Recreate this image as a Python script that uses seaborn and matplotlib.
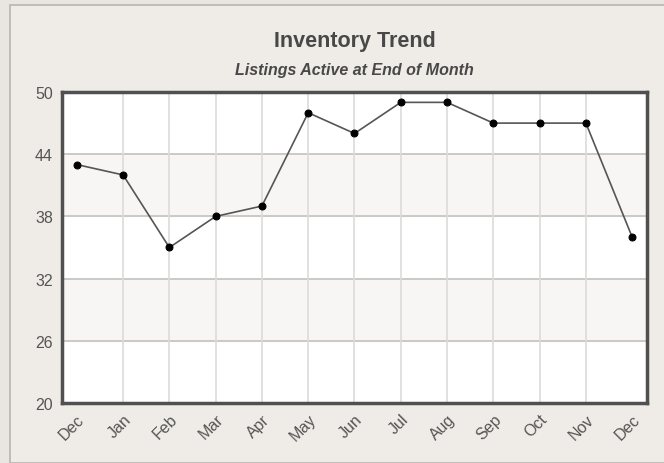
import seaborn as sns
import matplotlib.pyplot as plt
from matplotlib.patches import Rectangle

# data
months = ["Dec", "Jan", "Feb", "Mar", "Apr", "May", "Jun",
          "Jul", "Aug", "Sep", "Oct", "Nov", "Dec"]
listings = [43, 42, 35, 38, 39, 48, 46, 49, 49, 47, 47, 47, 36]
y_ticks = [20, 26, 32, 38, 44, 50]

sns.set_style("white")
plt.rcParams['font.family'] = ['Liberation Sans', 'DejaVu Sans']

fig = plt.figure(figsize=(6.64, 4.64), dpi=100)
fig.patch.set_facecolor("#e9e6e1")

# light panel behind the chart
fig.patches.append(Rectangle((10 / 664, 0), 1, 1 - 6 / 464, transform=fig.transFigure,
                             facecolor="#efebe6", edgecolor="#b8b5b0", linewidth=1.2,
                             zorder=-1))

ax = fig.add_axes([62 / 664, 60 / 464, 585 / 664, 311 / 464])
ax.set_zorder(2)
ax.set_facecolor("white")

x = list(range(len(months)))
sns.lineplot(x=x, y=listings, ax=ax, color="#555555", linewidth=1.2,
             marker="o", markersize=5, markerfacecolor="black",
             markeredgecolor="black", zorder=5)

ax.set_xlim(-0.32, len(months) - 1 + 0.32)
ax.set_ylim(20, 50)

# alternating bands
for i in range(len(y_ticks) - 1):
    if i % 2 == 1:
        ax.axhspan(y_ticks[i], y_ticks[i + 1], color="#f7f6f4", zorder=0)

for yt in y_ticks[1:-1]:
    ax.axhline(yt, color="#c4c2bf", linewidth=1.2, zorder=1)
for xt in x[1:-1]:
    ax.axvline(xt, color="#dcdbd9", linewidth=1.2, zorder=1)

ax.set_yticks(y_ticks)
ax.set_xticks(x)
ax.set_xticklabels(months, rotation=45, ha="right", va="top",
                   rotation_mode="anchor")
ax.tick_params(axis="both", length=0, labelsize=11.5, labelcolor="#555555")
ax.tick_params(axis="y", pad=6.5)
ax.tick_params(axis="x", pad=6)
ax.set_xlabel("")
ax.set_ylabel("")

for s in ax.spines.values():
    s.set_color("#505050")
    s.set_linewidth(2.5)
    s.set_visible(True)

fig.text(354.5 / 664, 1 - 41 / 464, "Inventory Trend", ha="center", va="center",
         fontsize=15.5, fontweight="bold", color="#484848")
fig.text(354.5 / 664, 1 - 70 / 464, "Listings Active at End of Month", ha="center",
         va="center", fontsize=11.5, fontweight="bold", fontstyle="italic",
         color="#484848")

fig.savefig("out.png", dpi=100, facecolor=fig.get_facecolor())
